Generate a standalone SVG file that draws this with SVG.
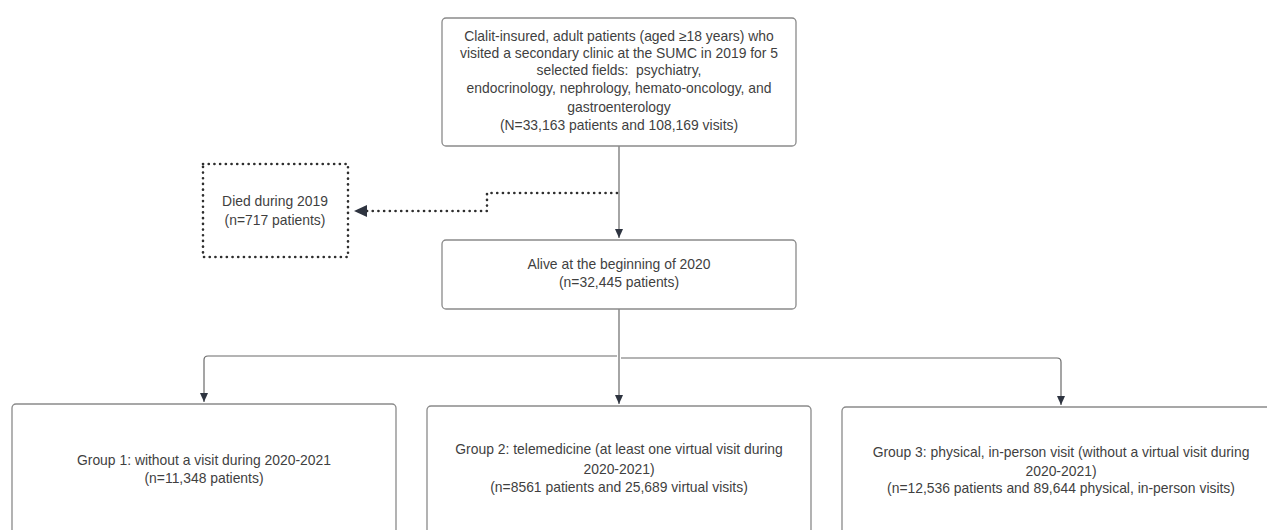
<svg xmlns="http://www.w3.org/2000/svg" width="1267" height="530" viewBox="0 0 1267 530">
<defs>
<marker id="arr" markerWidth="10" markerHeight="10" refX="9" refY="5" orient="auto" markerUnits="userSpaceOnUse">
<path d="M0,1 L9,5 L0,9 Z" fill="#2e3440"/>
</marker>
<style>
.box{fill:#fff;stroke:#8a8a8a;stroke-width:1.3}
.dot{fill:#fff;stroke:#2e2e2e;stroke-width:2.6;stroke-dasharray:0.1 5.6;stroke-linecap:round}
.t{font-family:"Liberation Sans",Arial,sans-serif;font-size:13.9px;fill:#3f3f3f;text-anchor:middle;white-space:pre}
.c{fill:none;stroke:#6a6a6a;stroke-width:1.2}
.cd{fill:none;stroke:#2e2e2e;stroke-width:2.6;stroke-dasharray:0.1 5.6;stroke-linecap:round}
</style>
</defs>
<rect width="1267" height="530" fill="#fff"/>
<g id="connectors">
<path class="c" d="M619,146 V238" marker-end="url(#arr)"/>
<path class="cd" d="M617,193 H487 V211 H366"/>
<path d="M367,205 L354,211 L367,217 Z" fill="#2e3440"/>
<path class="c" d="M619,309 V404" marker-end="url(#arr)"/>
<path class="c" d="M617,356 H208 Q204,356 204,360 V402" marker-end="url(#arr)"/>
<path class="c" d="M621,358 H1057 Q1061,358 1061,362 V405" marker-end="url(#arr)"/>
</g>
<g id="n_top">
<rect class="box" x="442" y="18" width="354" height="128" rx="4"/>
<text class="t" x="619" y="41">Clalit-insured, adult patients (aged ≥18 years) who</text>
<text class="t" x="619" y="58">visited a secondary clinic at the SUMC in 2019 for 5</text>
<text class="t" x="619" y="75" xml:space="preserve">selected fields:  psychiatry,</text>
<text class="t" x="619" y="93">endocrinology, nephrology, hemato-oncology, and</text>
<text class="t" x="619" y="112">gastroenterology</text>
<text class="t" x="619" y="130">(N=33,163 patients and 108,169 visits)</text>
</g>
<g id="n_died">
<rect class="dot" x="203" y="164" width="145" height="93"/>
<text class="t" x="275" y="206">Died during 2019</text>
<text class="t" x="275" y="225">(n=717 patients)</text>
</g>
<g id="n_alive">
<rect class="box" x="442" y="240" width="354" height="69" rx="4"/>
<text class="t" x="619" y="269">Alive at the beginning of 2020</text>
<text class="t" x="619" y="287">(n=32,445 patients)</text>
</g>
<g id="n_g1">
<rect class="box" x="12" y="404" width="384" height="140" rx="4"/>
<text class="t" x="204" y="465">Group 1: without a visit during 2020-2021</text>
<text class="t" x="204" y="483">(n=11,348 patients)</text>
</g>
<g id="n_g2">
<rect class="box" x="427" y="406" width="384" height="140" rx="4"/>
<text class="t" x="619" y="454">Group 2: telemedicine (at least one virtual visit during</text>
<text class="t" x="619" y="474">2020-2021)</text>
<text class="t" x="619" y="492">(n=8561 patients and 25,689 virtual visits)</text>
</g>
<g id="n_g3">
<rect class="box" x="842" y="407" width="440" height="140" rx="4"/>
<text class="t" x="1061" y="457">Group 3: physical, in-person visit (without a virtual visit during</text>
<text class="t" x="1061" y="476">2020-2021)</text>
<text class="t" x="1061" y="493">(n=12,536 patients and 89,644 physical, in-person visits)</text>
</g>
</svg>
